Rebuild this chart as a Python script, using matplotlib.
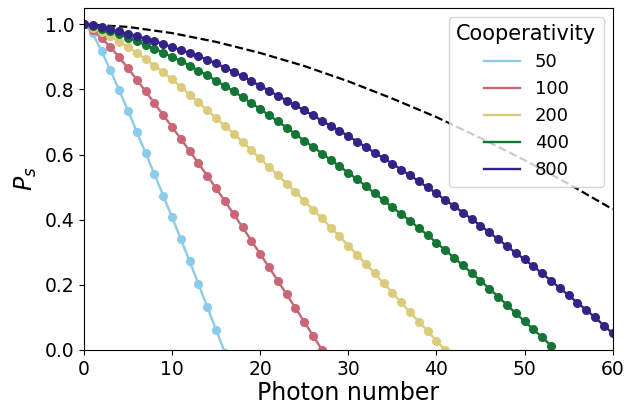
import numpy as np
import matplotlib
matplotlib.use("Agg")
import matplotlib.pyplot as plt

# survival probability vs photon number
coop = [50, 100, 200, 400, 800]
colors = ["#88CCEE", "#CC6677", "#DDCC77", "#117733", "#332288"]

ps_50 = [1.0, 0.972, 0.918, 0.859, 0.798, 0.735, 0.670, 0.605, 0.540, 0.474,
         0.408, 0.341, 0.272, 0.202, 0.132, 0.062, -0.008]
ps_100 = [1.0, 0.983, 0.958, 0.930, 0.899, 0.865, 0.830, 0.794, 0.758, 0.721,
          0.685, 0.648, 0.611, 0.573, 0.535, 0.496, 0.457, 0.417, 0.377, 0.336,
          0.295, 0.254, 0.213, 0.171, 0.129, 0.087, 0.044, 0.001]
ps_200 = [1.0, 0.990, 0.977, 0.963, 0.947, 0.930, 0.912, 0.893, 0.873, 0.853,
          0.831, 0.808, 0.784, 0.760, 0.736, 0.712, 0.688, 0.664, 0.639, 0.614,
          0.588, 0.562, 0.537, 0.511, 0.485, 0.458, 0.431, 0.404, 0.376, 0.349,
          0.320, 0.292, 0.264, 0.235, 0.205, 0.176, 0.146, 0.116, 0.087, 0.058,
          0.029, -0.001]
ps_400 = [1.0, 0.994, 0.987, 0.978, 0.969, 0.959, 0.948, 0.937, 0.925, 0.913,
          0.900, 0.887, 0.873, 0.858, 0.843, 0.827, 0.811, 0.794, 0.776, 0.758,
          0.740, 0.721, 0.702, 0.683, 0.663, 0.642, 0.624, 0.603, 0.584, 0.564,
          0.544, 0.524, 0.503, 0.481, 0.460, 0.438, 0.417, 0.397, 0.374, 0.353,
          0.329, 0.307, 0.283, 0.260, 0.236, 0.213, 0.188, 0.164, 0.138, 0.113,
          0.088, 0.063, 0.039, 0.013]
ps_800 = [1.0, 0.998, 0.992, 0.985, 0.978, 0.971, 0.964, 0.956, 0.948, 0.940,
          0.930, 0.921, 0.912, 0.902, 0.891, 0.880, 0.867, 0.854, 0.840, 0.826,
          0.811, 0.796, 0.781, 0.766, 0.751, 0.736, 0.720, 0.704, 0.688, 0.673,
          0.657, 0.640, 0.623, 0.606, 0.589, 0.572, 0.554, 0.536, 0.518, 0.499,
          0.481, 0.460, 0.442, 0.422, 0.402, 0.382, 0.361, 0.340, 0.319, 0.298,
          0.278, 0.257, 0.235, 0.213, 0.190, 0.168, 0.145, 0.123, 0.100, 0.075,
          0.051]
series = [ps_50, ps_100, ps_200, ps_400, ps_800]

# dashed limit curve
limit_n = [0, 5, 10, 15, 20, 25, 30, 35, 40, 45, 50, 55, 60]
limit_ps = [1.0, 0.992, 0.973, 0.946, 0.912, 0.872, 0.825, 0.772, 0.715,
            0.651, 0.583, 0.510, 0.432]

fig = plt.figure(figsize=(6.28, 4.09), dpi=100)
ax = fig.add_axes([0.1336, 0.1443, 0.842, 0.8361])

ax.plot(limit_n, limit_ps, "--", color="black", lw=1.6)
for c, col, ps in zip(coop, colors, series):
    n = np.arange(len(ps))
    ax.plot(n, ps, "-", color=col, lw=1.7, label=str(c))
    ax.plot(n, ps, "o", color=col, ms=5.5)

ax.set_xlim(0, 60)
ax.set_ylim(0, 1.05)
ax.set_xticks([0, 10, 20, 30, 40, 50, 60])
ax.set_yticks([0.0, 0.2, 0.4, 0.6, 0.8, 1.0])
ax.tick_params(labelsize=13.5)
ax.set_xlabel("Photon number", fontsize=17, labelpad=2)
ax.set_ylabel("$P_s$", fontsize=17)
ax.legend(title="Cooperativity", fontsize=13, title_fontsize=15,
          loc="upper right")

fig.savefig("out.png", dpi=100)
